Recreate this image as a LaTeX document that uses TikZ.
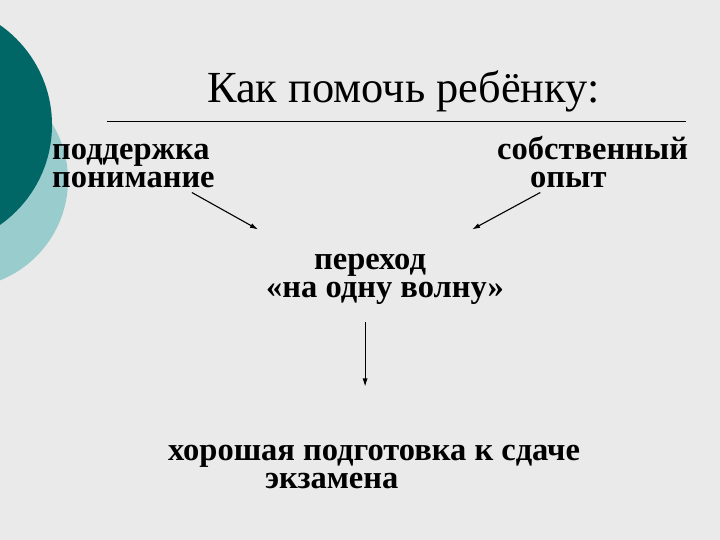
\documentclass[tikz,border=0pt]{standalone}
\usepackage{fontspec}
\setmainfont{Liberation Serif}
\usetikzlibrary{arrows.meta}
\definecolor{bggray}{RGB}{234,234,234}
\definecolor{darkteal}{RGB}{0,102,102}
\definecolor{lightteal}{RGB}{153,204,204}
\begin{document}
\begin{tikzpicture}[x=1pt,y=-1pt,
    word/.style={inner sep=0pt, anchor=base west, align=left,
        font=\fontsize{32.5}{28}\selectfont\bfseries},
    link/.style={-{Latex[length=8pt,width=5pt]}, line width=1.1pt}
]
    \fill[bggray] (0,0) rectangle (720,540);
    \useasboundingbox (0,0) rectangle (720,540);
    \begin{scope}
        \clip (0,0) rectangle (720,540);
        \fill[lightteal] (-40,180) circle[radius=108pt];
        \fill[darkteal] (-70,125) circle[radius=122pt];
    \end{scope}

    \node[inner sep=0pt, anchor=base west, font=\fontsize{44.4}{44}\selectfont] (title) at (207,103) {Как помочь ребёнку:};
    \draw (107,121) -- (686,121);

    \node[word] (help) at (52,188) {поддержка\\понимание};
    \node[word] (own) at (497,188) {собственный\\\hspace{33pt}опыт};
    \node[word] (wave) at (266,297) {\hspace{48pt}переход\\«на одну волну»};
    \node[word] (exam) at (168,488) {хорошая подготовка к сдаче\\\hspace{97pt}экзамена};

    \draw[link] ([xshift=-23pt,yshift=-4pt]help.south east) -- ([xshift=-8pt,yshift=24pt]wave.north west);
    \draw[link] ([xshift=-148pt,yshift=-4pt]own.south east) -- ([xshift=-32pt,yshift=24pt]wave.north east);
    \draw[link, line width=0.9pt] ([yshift=-18pt]wave.south -| exam.north) ++(-9pt,0) -- ([xshift=-9pt,yshift=58pt]exam.north);
\end{tikzpicture}
\end{document}
